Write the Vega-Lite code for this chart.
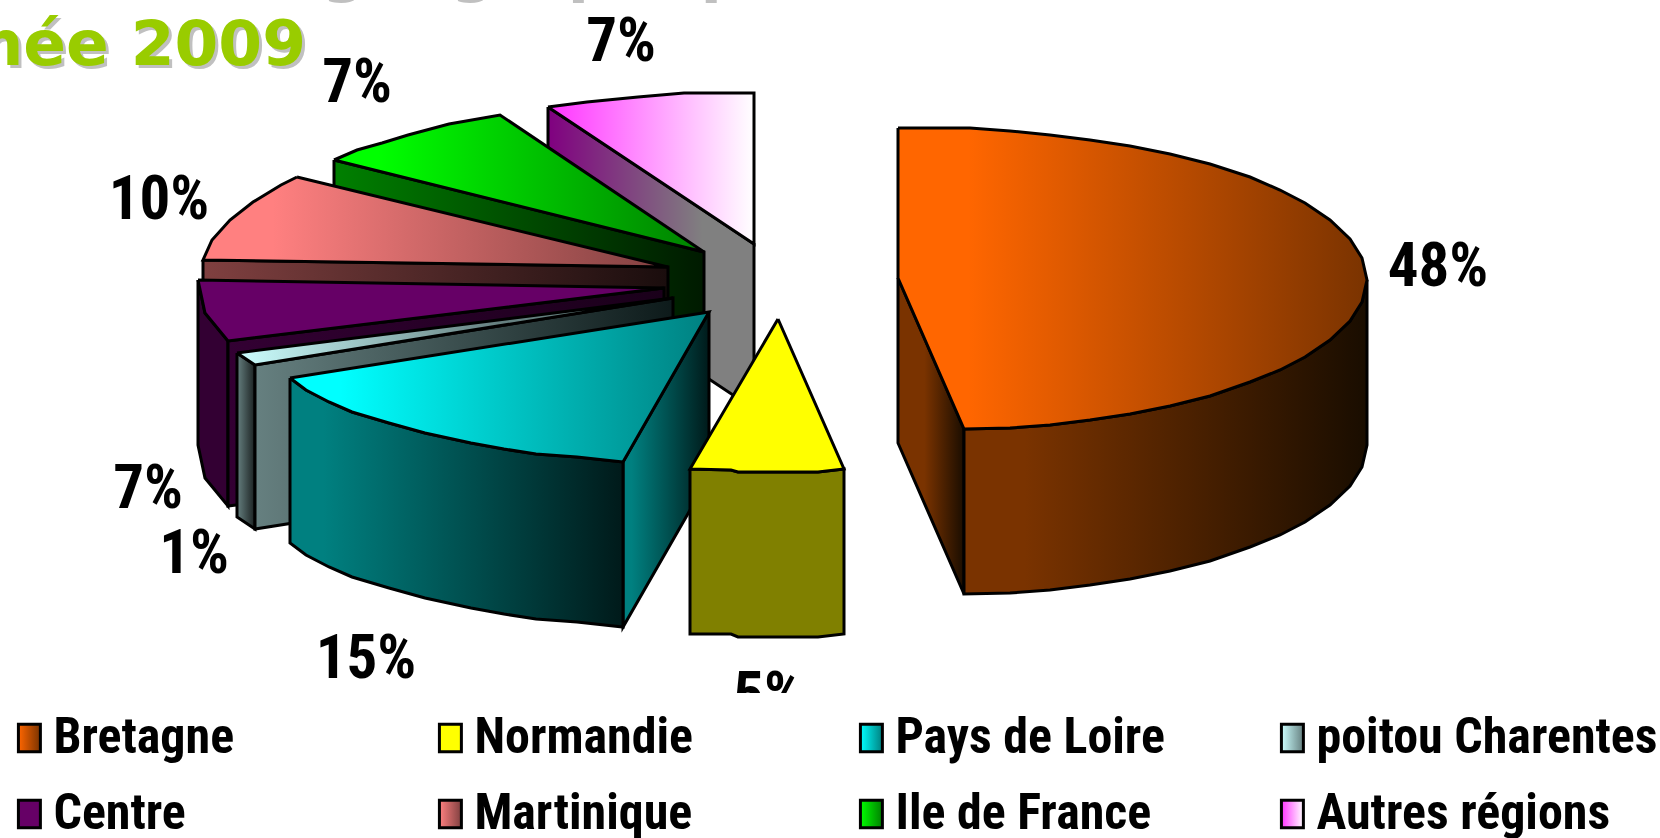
{"$schema":"https://vega.github.io/schema/vega-lite/v6.json","width":1660,"height":838,"padding":0,"autosize":{"type":"none"},"background":"white","config":{"view":{"stroke":null},"axis":{"domain":false}},
"datasets":{
"regions":[{"region":"Bretagne","share":48},{"region":"Normandie","share":5},{"region":"Pays de Loire","share":15},{"region":"poitou Charentes","share":1},{"region":"Centre","share":7},{"region":"Martinique","share":10},{"region":"Ile de France","share":7},{"region":"Autres régions","share":7}],
"pct":[{"label":"48%","x":1438,"y":286},{"label":"5%","x":768,"y":715},{"label":"15%","x":366,"y":678},{"label":"1%","x":194,"y":573},{"label":"7%","x":148,"y":508},{"label":"10%","x":159,"y":219},{"label":"7%","x":357,"y":102},{"label":"7%","x":621,"y":61}],
"outlines":[
{"face":"aut-side","order":0,"x":548,"y":107},{"face":"aut-side","order":1,"x":754,"y":244},{"face":"aut-side","order":2,"x":754,"y":409},{"face":"aut-side","order":3,"x":548,"y":272},{"face":"aut-side","order":4,"x":548,"y":107},
{"face":"aut-top","order":0,"x":548,"y":107},{"face":"aut-top","order":1,"x":587,"y":102},{"face":"aut-top","order":2,"x":638,"y":97},{"face":"aut-top","order":3,"x":684,"y":93},{"face":"aut-top","order":4,"x":754,"y":93},{"face":"aut-top","order":5,"x":754,"y":244},{"face":"aut-top","order":6,"x":548,"y":107},
{"face":"ile-side","order":0,"x":334,"y":160},{"face":"ile-side","order":1,"x":704,"y":252},{"face":"ile-side","order":2,"x":704,"y":417},{"face":"ile-side","order":3,"x":334,"y":325},{"face":"ile-side","order":4,"x":334,"y":160},
{"face":"ile-top","order":0,"x":334,"y":160},{"face":"ile-top","order":1,"x":357,"y":150},{"face":"ile-top","order":2,"x":382,"y":143},{"face":"ile-top","order":3,"x":408,"y":135},{"face":"ile-top","order":4,"x":449,"y":124},{"face":"ile-top","order":5,"x":500,"y":115},{"face":"ile-top","order":6,"x":704,"y":252},{"face":"ile-top","order":7,"x":334,"y":160},
{"face":"mar-side","order":0,"x":203,"y":260},{"face":"mar-side","order":1,"x":668,"y":267},{"face":"mar-side","order":2,"x":668,"y":432},{"face":"mar-side","order":3,"x":203,"y":425},{"face":"mar-side","order":4,"x":203,"y":260},
{"face":"mar-top","order":0,"x":297,"y":177},{"face":"mar-top","order":1,"x":281,"y":185},{"face":"mar-top","order":2,"x":253,"y":202},{"face":"mar-top","order":3,"x":230,"y":220},{"face":"mar-top","order":4,"x":212,"y":240},{"face":"mar-top","order":5,"x":203,"y":260},{"face":"mar-top","order":6,"x":668,"y":267},{"face":"mar-top","order":7,"x":297,"y":177},
{"face":"cen-arc","order":0,"x":198,"y":280},{"face":"cen-arc","order":1,"x":205,"y":313},{"face":"cen-arc","order":2,"x":228,"y":341},{"face":"cen-arc","order":3,"x":228,"y":506},{"face":"cen-arc","order":4,"x":205,"y":478},{"face":"cen-arc","order":5,"x":198,"y":445},{"face":"cen-arc","order":6,"x":198,"y":280},
{"face":"cen-side","order":0,"x":228,"y":341},{"face":"cen-side","order":1,"x":664,"y":288},{"face":"cen-side","order":2,"x":664,"y":453},{"face":"cen-side","order":3,"x":228,"y":506},{"face":"cen-side","order":4,"x":228,"y":341},
{"face":"cen-top","order":0,"x":198,"y":280},{"face":"cen-top","order":1,"x":664,"y":288},{"face":"cen-top","order":2,"x":228,"y":341},{"face":"cen-top","order":3,"x":205,"y":313},{"face":"cen-top","order":4,"x":198,"y":280},
{"face":"poi-arc","order":0,"x":237,"y":353},{"face":"poi-arc","order":1,"x":255,"y":365},{"face":"poi-arc","order":2,"x":255,"y":529},{"face":"poi-arc","order":3,"x":237,"y":517},{"face":"poi-arc","order":4,"x":237,"y":353},
{"face":"poi-side","order":0,"x":255,"y":365},{"face":"poi-side","order":1,"x":673,"y":298},{"face":"poi-side","order":2,"x":673,"y":463},{"face":"poi-side","order":3,"x":255,"y":529},{"face":"poi-side","order":4,"x":255,"y":365},
{"face":"poi-top","order":0,"x":237,"y":353},{"face":"poi-top","order":1,"x":673,"y":298},{"face":"poi-top","order":2,"x":255,"y":365},{"face":"poi-top","order":3,"x":237,"y":353},
{"face":"pay-side","order":0,"x":709,"y":312},{"face":"pay-side","order":1,"x":709,"y":477},{"face":"pay-side","order":2,"x":623,"y":627},{"face":"pay-side","order":3,"x":623,"y":462},{"face":"pay-side","order":4,"x":709,"y":312},
{"face":"pay-wall","order":0,"x":290,"y":378},{"face":"pay-wall","order":1,"x":306,"y":390},{"face":"pay-wall","order":2,"x":329,"y":402},{"face":"pay-wall","order":3,"x":352,"y":412},{"face":"pay-wall","order":4,"x":389,"y":423},{"face":"pay-wall","order":5,"x":425,"y":433},{"face":"pay-wall","order":6,"x":471,"y":443},{"face":"pay-wall","order":7,"x":504,"y":449},{"face":"pay-wall","order":8,"x":536,"y":454},{"face":"pay-wall","order":9,"x":577,"y":457},{"face":"pay-wall","order":10,"x":623,"y":462},{"face":"pay-wall","order":11,"x":623,"y":627},{"face":"pay-wall","order":12,"x":577,"y":622},{"face":"pay-wall","order":13,"x":536,"y":619},{"face":"pay-wall","order":14,"x":504,"y":614},{"face":"pay-wall","order":15,"x":471,"y":608},{"face":"pay-wall","order":16,"x":425,"y":598},{"face":"pay-wall","order":17,"x":389,"y":588},{"face":"pay-wall","order":18,"x":352,"y":577},{"face":"pay-wall","order":19,"x":329,"y":567},{"face":"pay-wall","order":20,"x":306,"y":555},{"face":"pay-wall","order":21,"x":290,"y":543},{"face":"pay-wall","order":22,"x":290,"y":378},
{"face":"pay-top","order":0,"x":290,"y":378},{"face":"pay-top","order":1,"x":709,"y":312},{"face":"pay-top","order":2,"x":623,"y":462},{"face":"pay-top","order":3,"x":577,"y":457},{"face":"pay-top","order":4,"x":536,"y":454},{"face":"pay-top","order":5,"x":504,"y":449},{"face":"pay-top","order":6,"x":471,"y":443},{"face":"pay-top","order":7,"x":425,"y":433},{"face":"pay-top","order":8,"x":389,"y":423},{"face":"pay-top","order":9,"x":352,"y":412},{"face":"pay-top","order":10,"x":329,"y":402},{"face":"pay-top","order":11,"x":306,"y":390},{"face":"pay-top","order":12,"x":290,"y":378},
{"face":"nor-wall","order":0,"x":690,"y":469},{"face":"nor-wall","order":1,"x":731,"y":470},{"face":"nor-wall","order":2,"x":738,"y":472},{"face":"nor-wall","order":3,"x":818,"y":472},{"face":"nor-wall","order":4,"x":844,"y":469},{"face":"nor-wall","order":5,"x":844,"y":634},{"face":"nor-wall","order":6,"x":818,"y":637},{"face":"nor-wall","order":7,"x":738,"y":637},{"face":"nor-wall","order":8,"x":731,"y":634},{"face":"nor-wall","order":9,"x":690,"y":634},{"face":"nor-wall","order":10,"x":690,"y":469},
{"face":"nor-top","order":0,"x":778,"y":319},{"face":"nor-top","order":1,"x":844,"y":469},{"face":"nor-top","order":2,"x":818,"y":472},{"face":"nor-top","order":3,"x":738,"y":472},{"face":"nor-top","order":4,"x":731,"y":470},{"face":"nor-top","order":5,"x":690,"y":469},{"face":"nor-top","order":6,"x":778,"y":319},
{"face":"bre-side","order":0,"x":898,"y":278},{"face":"bre-side","order":1,"x":964,"y":429},{"face":"bre-side","order":2,"x":964,"y":594},{"face":"bre-side","order":3,"x":898,"y":443},{"face":"bre-side","order":4,"x":898,"y":278},
{"face":"bre-wall","order":0,"x":964,"y":429},{"face":"bre-wall","order":1,"x":1010,"y":428},{"face":"bre-wall","order":2,"x":1050,"y":425},{"face":"bre-wall","order":3,"x":1090,"y":420},{"face":"bre-wall","order":4,"x":1130,"y":414},{"face":"bre-wall","order":5,"x":1170,"y":406},{"face":"bre-wall","order":6,"x":1210,"y":396},{"face":"bre-wall","order":7,"x":1250,"y":382},{"face":"bre-wall","order":8,"x":1280,"y":370},{"face":"bre-wall","order":9,"x":1305,"y":357},{"face":"bre-wall","order":10,"x":1330,"y":340},{"face":"bre-wall","order":11,"x":1350,"y":321},{"face":"bre-wall","order":12,"x":1362,"y":302},{"face":"bre-wall","order":13,"x":1367,"y":280},{"face":"bre-wall","order":14,"x":1367,"y":445},{"face":"bre-wall","order":15,"x":1362,"y":467},{"face":"bre-wall","order":16,"x":1350,"y":486},{"face":"bre-wall","order":17,"x":1330,"y":505},{"face":"bre-wall","order":18,"x":1305,"y":522},{"face":"bre-wall","order":19,"x":1280,"y":535},{"face":"bre-wall","order":20,"x":1250,"y":547},{"face":"bre-wall","order":21,"x":1210,"y":561},{"face":"bre-wall","order":22,"x":1170,"y":571},{"face":"bre-wall","order":23,"x":1130,"y":579},{"face":"bre-wall","order":24,"x":1090,"y":585},{"face":"bre-wall","order":25,"x":1050,"y":590},{"face":"bre-wall","order":26,"x":1010,"y":593},{"face":"bre-wall","order":27,"x":964,"y":594},{"face":"bre-wall","order":28,"x":964,"y":429},
{"face":"bre-top","order":0,"x":898,"y":128},{"face":"bre-top","order":1,"x":970,"y":128},{"face":"bre-top","order":2,"x":1010,"y":131},{"face":"bre-top","order":3,"x":1050,"y":135},{"face":"bre-top","order":4,"x":1090,"y":140},{"face":"bre-top","order":5,"x":1130,"y":146},{"face":"bre-top","order":6,"x":1170,"y":154},{"face":"bre-top","order":7,"x":1210,"y":164},{"face":"bre-top","order":8,"x":1250,"y":177},{"face":"bre-top","order":9,"x":1280,"y":190},{"face":"bre-top","order":10,"x":1305,"y":203},{"face":"bre-top","order":11,"x":1330,"y":220},{"face":"bre-top","order":12,"x":1350,"y":239},{"face":"bre-top","order":13,"x":1362,"y":258},{"face":"bre-top","order":14,"x":1367,"y":280},{"face":"bre-top","order":15,"x":1362,"y":302},{"face":"bre-top","order":16,"x":1350,"y":321},{"face":"bre-top","order":17,"x":1330,"y":340},{"face":"bre-top","order":18,"x":1305,"y":357},{"face":"bre-top","order":19,"x":1280,"y":370},{"face":"bre-top","order":20,"x":1250,"y":382},{"face":"bre-top","order":21,"x":1210,"y":396},{"face":"bre-top","order":22,"x":1170,"y":406},{"face":"bre-top","order":23,"x":1130,"y":414},{"face":"bre-top","order":24,"x":1090,"y":420},{"face":"bre-top","order":25,"x":1050,"y":425},{"face":"bre-top","order":26,"x":1010,"y":428},{"face":"bre-top","order":27,"x":964,"y":429},{"face":"bre-top","order":28,"x":898,"y":278},{"face":"bre-top","order":29,"x":898,"y":128}
]},
"resolve":{"scale":{"fill":"independent"}},
"layer":[
{"data":{"values":[{"t":"géographique","x":322,"y":-10}]},"mark":{"type":"text","font":"DejaVu Sans","fontWeight":"bold","fontSize":62,"align":"left","baseline":"alphabetic","fill":"#c0c0c0","clip":false},"encoding":{"text":{"field":"t"},"x":{"field":"x","type":"quantitative","scale":{"domain":[0,1660],"range":[0,1660],"nice":false,"zero":false},"axis":null},"y":{"field":"y","type":"quantitative","scale":{"domain":[0,838],"range":[0,838],"nice":false,"zero":false},"axis":null}}},
{"data":{"values":[{"t":"Année 2009","x":306,"y":65}]},"mark":{"type":"text","font":"DejaVu Sans","fontWeight":"bold","fontSize":63,"align":"right","baseline":"alphabetic","fill":"#c0c0c0","dx":3,"dy":3},"encoding":{"text":{"field":"t"},"x":{"field":"x","type":"quantitative"},"y":{"field":"y","type":"quantitative"}}},
{"data":{"values":[{"t":"Année 2009","x":306,"y":65}]},"mark":{"type":"text","font":"DejaVu Sans","fontWeight":"bold","fontSize":63,"align":"right","baseline":"alphabetic","fill":"#99cc00"},"encoding":{"text":{"field":"t"},"x":{"field":"x","type":"quantitative"},"y":{"field":"y","type":"quantitative"}}},
{"data":{"name":"outlines"},"mark":{"type":"line","stroke":"black","strokeWidth":3,"strokeJoin":"miter","clip":false},"encoding":{
"x":{"field":"x","type":"quantitative"},"y":{"field":"y","type":"quantitative"},"order":{"field":"order","type":"quantitative"},
"fill":{"field":"face","type":"nominal","legend":null,"sort":null,"scale":{"domain":["aut-side","aut-top","ile-side","ile-top","mar-side","mar-top","cen-arc","cen-side","cen-top","poi-arc","poi-side","poi-top","pay-side","pay-wall","pay-top","nor-wall","nor-top","bre-side","bre-wall","bre-top"],"range":[
{"expr":"{gradient:'linear',x1:0,y1:0,x2:1,y2:0,stops:[{offset:0,color:'#800080'},{offset:0.75,color:'#808080'},{offset:1,color:'#808080'}]}"},
{"expr":"{gradient:'linear',x1:0,y1:0,x2:1,y2:0,stops:[{offset:0,color:'#ff33ff'},{offset:1,color:'#ffffff'}]}"},
{"expr":"{gradient:'linear',x1:0,y1:0,x2:1,y2:0,stops:[{offset:0,color:'#008000'},{offset:1,color:'#001a00'}]}"},
{"expr":"{gradient:'linear',x1:0,y1:0,x2:1,y2:0,stops:[{offset:0,color:'#00ff00'},{offset:0.12,color:'#00ff00'},{offset:1,color:'#008000'}]}"},
{"expr":"{gradient:'linear',x1:0,y1:0,x2:1,y2:0,stops:[{offset:0,color:'#804040'},{offset:1,color:'#1a0d0d'}]}"},
{"expr":"{gradient:'linear',x1:0,y1:0,x2:1,y2:0,stops:[{offset:0,color:'#ff8080'},{offset:0.15,color:'#ff8080'},{offset:1,color:'#804040'}]}"},
"#330033",
{"expr":"{gradient:'linear',x1:0,y1:0,x2:1,y2:0,stops:[{offset:0,color:'#330033'},{offset:1,color:'#1a001a'}]}"},
"#660066",
{"expr":"{gradient:'linear',x1:0,y1:0,x2:1,y2:0,stops:[{offset:0,color:'#668080'},{offset:1,color:'#1a2020'}]}"},
{"expr":"{gradient:'linear',x1:0,y1:0,x2:1,y2:0,stops:[{offset:0,color:'#668080'},{offset:1,color:'#0d1a1a'}]}"},
{"expr":"{gradient:'linear',x1:0,y1:0,x2:1,y2:0,stops:[{offset:0,color:'#ccffff'},{offset:0.6,color:'#668080'},{offset:1,color:'#668080'}]}"},
{"expr":"{gradient:'linear',x1:0,y1:0,x2:1,y2:0,stops:[{offset:0,color:'#008080'},{offset:0.1,color:'#008080'},{offset:1,color:'#001a1a'}]}"},
{"expr":"{gradient:'linear',x1:0,y1:0,x2:1,y2:0,stops:[{offset:0,color:'#008080'},{offset:0.1,color:'#008080'},{offset:1,color:'#001a1a'}]}"},
{"expr":"{gradient:'linear',x1:0,y1:0,x2:1,y2:0,stops:[{offset:0,color:'#00ffff'},{offset:0.12,color:'#00ffff'},{offset:1,color:'#008080'}]}"},
"#808000","#ffff00",
{"expr":"{gradient:'linear',x1:0,y1:0,x2:1,y2:0,stops:[{offset:0,color:'#7a3300'},{offset:0.4,color:'#7a3300'},{offset:1,color:'#1a0d00'}]}"},
{"expr":"{gradient:'linear',x1:0,y1:0,x2:1,y2:0,stops:[{offset:0,color:'#7a3300'},{offset:0.15,color:'#7a3300'},{offset:1,color:'#190d00'}]}"},
{"expr":"{gradient:'linear',x1:0,y1:0,x2:1,y2:0,stops:[{offset:0,color:'#ff6600'},{offset:0.15,color:'#ff6600'},{offset:1,color:'#7a3300'}]}"}
]}}}},
{"data":{"name":"pct"},"mark":{"type":"text","font":"Roboto Condensed","fontWeight":"bold","fontSize":61,"align":"center","baseline":"alphabetic","fill":"black","clip":false},"encoding":{"text":{"field":"label"},"x":{"field":"x","type":"quantitative"},"y":{"field":"y","type":"quantitative"}}},
{"data":{"name":"regions"},"mark":{"type":"point","filled":true,"size":0},"encoding":{
"fill":{"field":"region","type":"nominal","sort":null,"scale":{"domain":["Bretagne","Normandie","Pays de Loire","poitou Charentes","Centre","Martinique","Ile de France","Autres régions"],"range":[
{"expr":"{gradient:'linear',x1:0,y1:0,x2:1,y2:0,stops:[{offset:0,color:'#ff6600'},{offset:1,color:'#7a3300'}]}"},
"#ffff00",
{"expr":"{gradient:'linear',x1:0,y1:0,x2:1,y2:0,stops:[{offset:0,color:'#00ffff'},{offset:1,color:'#008080'}]}"},
{"expr":"{gradient:'linear',x1:0,y1:0,x2:1,y2:0,stops:[{offset:0,color:'#ccffff'},{offset:1,color:'#668080'}]}"},
"#660066",
{"expr":"{gradient:'linear',x1:0,y1:0,x2:1,y2:0,stops:[{offset:0,color:'#ff8080'},{offset:1,color:'#804040'}]}"},
{"expr":"{gradient:'linear',x1:0,y1:0,x2:1,y2:0,stops:[{offset:0,color:'#00ff00'},{offset:1,color:'#008000'}]}"},
{"expr":"{gradient:'linear',x1:0,y1:0,x2:1,y2:0,stops:[{offset:0,color:'#ff33ff'},{offset:1,color:'#ffffff'}]}"}
]},
"legend":{"title":null,"orient":"none","legendX":-15.6,"legendY":693,"columns":4,"direction":"horizontal","gridAlign":"all","padding":16,"fillColor":"white","zindex":1,"symbolType":"M-0.4,-0.5H0.4V0.5H-0.4Z","symbolSize":3019,"symbolStrokeColor":"black","symbolStrokeWidth":3,"symbolOpacity":1,"labelFont":"Roboto Condensed","labelFontWeight":"bold","labelFontSize":50,"labelColor":"black","labelLimit":600,"labelOffset":-5,"columnPadding":26,"rowPadding":22}
}}}
]}
